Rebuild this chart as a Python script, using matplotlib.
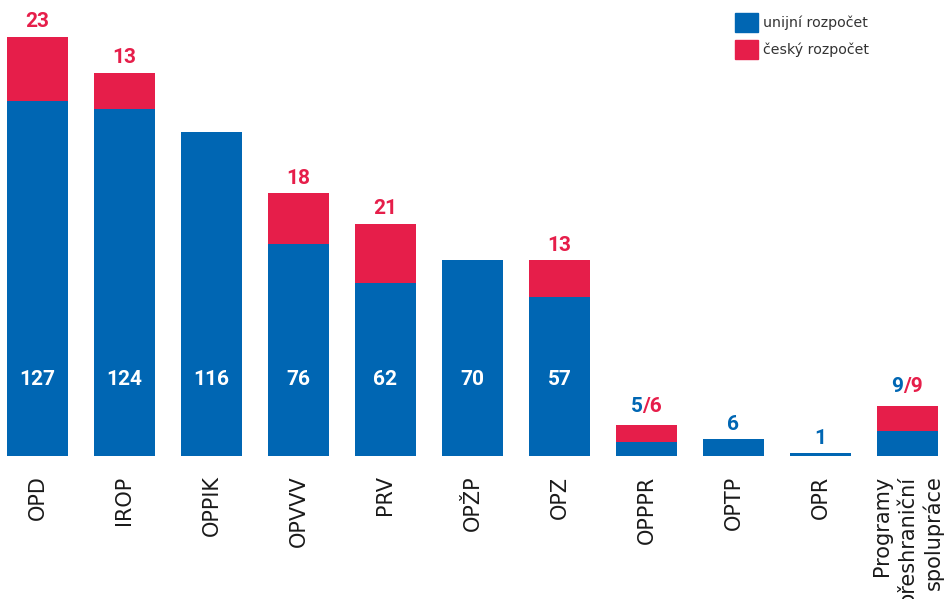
import numpy as np
import matplotlib
matplotlib.use("Agg")
import matplotlib.pyplot as plt
from matplotlib.patches import Patch
from matplotlib.offsetbox import TextArea, HPacker, AnnotationBbox

# ---- data ----
categories = ["OPD", "IROP", "OPPIK", "OPVVV", "PRV", "OPŽP", "OPZ",
              "OPPPR", "OPTP", "OPR", "Programy\npřeshraniční\nspolupráce"]
eu_budget = [127, 124, 116, 76, 62, 70, 57, 5, 6, 1, 9]
cz_budget = [23, 13, 0, 18, 21, 0, 13, 6, 0, 0, 9]
legend_labels = ["unijní rozpočet", "český rozpočet"]

BLUE = "#0066B3"
RED = "#E61E4A"
NUMFONT = "Roboto"

fig = plt.figure(figsize=(9.44, 5.99), dpi=100)
ax = fig.add_axes([0, 0.2387, 1, 0.7613])
x = np.arange(len(categories))
eu = np.array(eu_budget)
cz = np.array(cz_budget)

ax.bar(x, eu, width=0.70, color=BLUE, zorder=2)
ax.bar(x, cz, bottom=eu, width=0.70, color=RED, zorder=2)

ax.set_xlim(-0.431, 10.42)
ax.set_ylim(0, 163.1)
for s in ax.spines.values():
    s.set_visible(False)
ax.set_yticks([])
ax.set_xticks(x)
ax.set_xticklabels(categories, rotation=90, fontsize=15, color="#1a1a1a",
                   family="DejaVu Sans", linespacing=1.25)
ax.tick_params(axis="x", length=0, pad=14)
for lbl in ax.get_xticklabels():
    lbl.set_multialignment("right")

INSIDE_Y = 27.5
for xi, e, c in zip(x, eu, cz):
    total = e + c
    if e >= 20:
        ax.text(xi, INSIDE_Y, f"{e}", ha="center", va="center", color="white",
                fontsize=15, fontweight="bold", family=NUMFONT, zorder=3)
        if c > 0:
            ax.annotate(f"{c}", (xi, total), xytext=(0, 4), textcoords="offset points",
                        ha="center", va="bottom", color=RED, fontsize=15,
                        fontweight="bold", family=NUMFONT)
    else:
        if c > 0:
            props = dict(fontsize=15, fontweight="bold", family=NUMFONT)
            parts = [TextArea(f"{e}", textprops=dict(color=BLUE, **props)),
                     TextArea(f"/{c}", textprops=dict(color=RED, **props))]
            pack = HPacker(children=parts, align="baseline", pad=0, sep=0)
            ab = AnnotationBbox(pack, (xi, total), xybox=(0, 7),
                                boxcoords="offset points", box_alignment=(0.5, 0),
                                frameon=False, pad=0)
            ax.add_artist(ab)
        else:
            ax.annotate(f"{e}", (xi, total), xytext=(0, 4), textcoords="offset points",
                        ha="center", va="bottom", color=BLUE, fontsize=15,
                        fontweight="bold", family=NUMFONT)

handles = [Patch(color=BLUE, label=legend_labels[0]),
           Patch(color=RED, label=legend_labels[1])]
leg = ax.legend(handles=handles, loc="upper left",
                bbox_to_anchor=(735 / 944, 1 - 13 / 599), bbox_transform=fig.transFigure,
                frameon=False, borderpad=0, borderaxespad=0,
                handlelength=1.65, handleheight=1.65, handletextpad=0.3,
                labelspacing=0.6, prop=dict(family="DejaVu Sans", size=10.2))
for t in leg.get_texts():
    t.set_color("#333333")

fig.savefig("out.png", dpi=100)
